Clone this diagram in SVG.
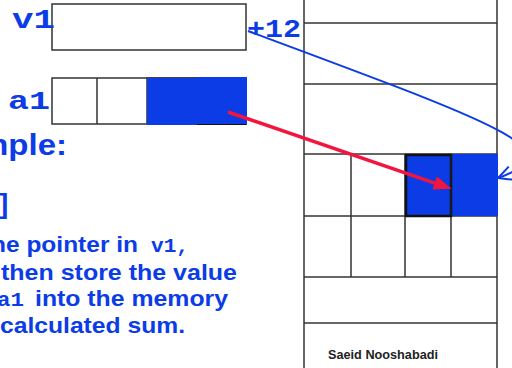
<svg xmlns="http://www.w3.org/2000/svg" width="512" height="368" viewBox="0 0 512 368">
<defs>
<style>
.box{fill:#fff;stroke:#333;stroke-width:1.5}
.ln{stroke:#333;stroke-width:1.5;fill:none}
.blue{fill:#0b3ce6}
.mono{font-family:"Liberation Mono","Courier New",monospace;font-weight:bold;fill:#0b3ce6}
.sans{font-family:"Liberation Sans",Arial,sans-serif;font-weight:bold;fill:#0b3ce6}
</style>
<marker id="redHead" viewBox="0 0 18 14" refX="1" refY="7" markerWidth="18" markerHeight="14" markerUnits="userSpaceOnUse" orient="auto">
<path d="M0,0 L18,7 L0,14 Z" fill="#f2163f"/>
</marker>
<marker id="blueHead" viewBox="0 0 16 16" refX="15" refY="8" markerWidth="16" markerHeight="16" markerUnits="userSpaceOnUse" orient="auto">
<path d="M1,1 L15,8 L1,15" fill="none" stroke="#0b3ce6" stroke-width="2"/>
</marker>
</defs>
<rect width="512" height="368" fill="#fff"/>

<g id="memory">
<line class="ln" x1="304" y1="0" x2="304" y2="368"/>
<line class="ln" x1="497" y1="0" x2="497" y2="368"/>
<line class="ln" x1="304" y1="23" x2="497" y2="23"/>
<line class="ln" x1="304" y1="84" x2="497" y2="84"/>
<line class="ln" x1="304" y1="154" x2="497" y2="154"/>
<line class="ln" x1="304" y1="216" x2="497" y2="216"/>
<line class="ln" x1="304" y1="277" x2="497" y2="277"/>
<line class="ln" x1="304" y1="323" x2="497" y2="323"/>
<line class="ln" x1="351" y1="154" x2="351" y2="277"/>
<line class="ln" x1="405" y1="154" x2="405" y2="277"/>
<line class="ln" x1="451" y1="154" x2="451" y2="277"/>
<rect class="blue" x="405" y="154" width="93" height="62"/>
<rect x="406" y="155" width="45" height="61" fill="none" stroke="#111" stroke-width="2.5"/>
<line x1="451" y1="154" x2="451" y2="216" stroke="#222" stroke-width="1"/>
<text x="328" y="359" font-family="'Liberation Sans',Arial,sans-serif" font-weight="bold" font-size="13" fill="#222" textLength="110" lengthAdjust="spacingAndGlyphs">Saeid Nooshabadi</text>
</g>

<g id="v1">
<rect class="box" x="52" y="4" width="194" height="46"/>
<text class="mono" x="12" y="28" font-size="28" textLength="43" lengthAdjust="spacingAndGlyphs">v1</text>
</g>

<g id="offset">
<text class="mono" x="247" y="37" font-size="25" textLength="54" lengthAdjust="spacingAndGlyphs">+12</text>
</g>

<g id="a1">
<rect class="box" x="52" y="78" width="194" height="46"/>
<line class="ln" x1="97" y1="78" x2="97" y2="124"/>
<line class="ln" x1="147" y1="78" x2="147" y2="124"/>
<rect class="blue" x="147" y="77" width="100" height="48"/>
<line x1="146" y1="77.5" x2="197" y2="77.5" stroke="#444" stroke-width="1.2"/>
<line x1="197" y1="124.5" x2="246" y2="124.5" stroke="#111" stroke-width="1.2"/>
<text class="mono" x="8" y="109" font-size="26" textLength="42" lengthAdjust="spacingAndGlyphs">a1</text>
</g>

<g id="text">
<text class="sans" transform="translate(-21,155) scale(1.1,1)" font-size="30">mple:</text>
<text class="mono" x="-5" y="213" font-size="28">]</text>
<text class="sans" x="-9" y="252" font-size="22" textLength="147" lengthAdjust="spacingAndGlyphs">he pointer in</text>
<text class="mono" x="151" y="252" font-size="20" textLength="38" lengthAdjust="spacingAndGlyphs">v1,</text>
<text class="sans" x="1" y="280" font-size="22" textLength="236" lengthAdjust="spacingAndGlyphs">then store the value</text>
<text class="mono" x="-3" y="306" font-size="20" textLength="27" lengthAdjust="spacingAndGlyphs">a1</text>
<text class="sans" x="35" y="306" font-size="22" textLength="193" lengthAdjust="spacingAndGlyphs">into the memory</text>
<text class="sans" x="0" y="333" font-size="22" textLength="185" lengthAdjust="spacingAndGlyphs">calculated sum.</text>
</g>

<g id="connectors">
<path d="M248,31 C500,125 575,150 498,178" fill="none" stroke="#0b3ce6" stroke-width="2" marker-end="url(#blueHead)"/>
<line x1="228" y1="112" x2="435.5" y2="183.3" stroke="#f2163f" stroke-width="3.5" marker-end="url(#redHead)"/>
</g>
</svg>
